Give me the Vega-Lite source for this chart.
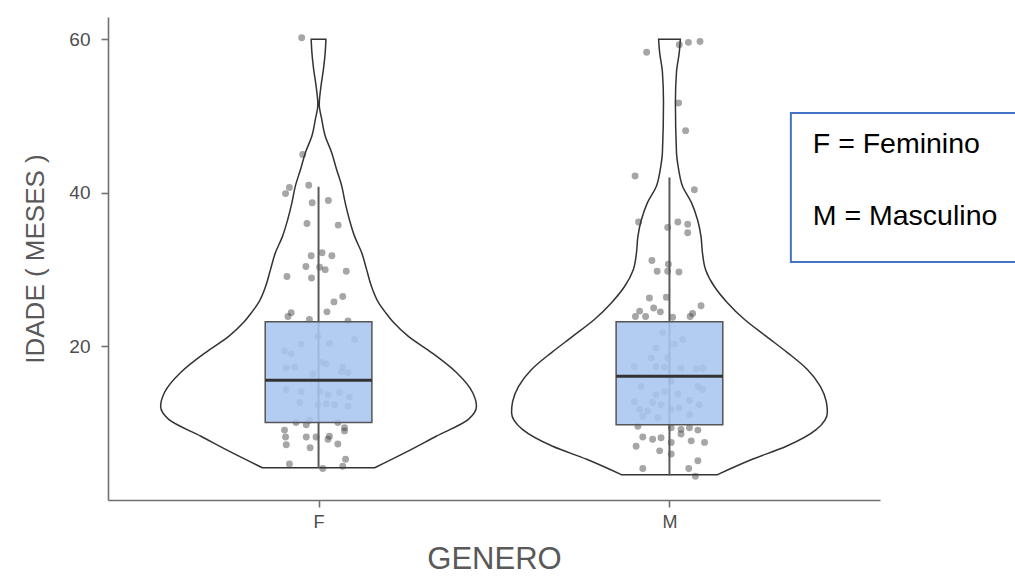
{
  "$schema": "https://vega.github.io/schema/vega-lite/v6.json",
  "width": 772,
  "height": 483,
  "autosize": {"type": "none"},
  "padding": {"left": 108, "top": 17, "right": 135, "bottom": 76},
  "background": "white",
  "config": {
    "view": {"stroke": null},
    "axis": {"grid": false, "domainColor": "#707070", "domainWidth": 1.6, "tickColor": "#707070", "tickWidth": 1.6, "tickSize": 7, "labelColor": "#4d4d4d", "titleColor": "#595959", "titleFontWeight": "normal", "labelFont": "Liberation Sans", "titleFont": "Liberation Sans"}
  },
  "datasets": {
    "violin": [
      {"g": "F", "age": 4.2, "w": 0.160}, {"g": "F", "age": 6.2, "w": 0.248}, {"g": "F", "age": 8.3, "w": 0.335},
      {"g": "F", "age": 10.5, "w": 0.427}, {"g": "F", "age": 12.2, "w": 0.450}, {"g": "F", "age": 14.0, "w": 0.439},
      {"g": "F", "age": 16.6, "w": 0.393}, {"g": "F", "age": 19.2, "w": 0.322}, {"g": "F", "age": 21.3, "w": 0.256},
      {"g": "F", "age": 23.1, "w": 0.214}, {"g": "F", "age": 24.4, "w": 0.191}, {"g": "F", "age": 25.7, "w": 0.171},
      {"g": "F", "age": 27.8, "w": 0.151}, {"g": "F", "age": 30.0, "w": 0.137}, {"g": "F", "age": 32.2, "w": 0.123},
      {"g": "F", "age": 34.3, "w": 0.103}, {"g": "F", "age": 36.5, "w": 0.088}, {"g": "F", "age": 38.7, "w": 0.076},
      {"g": "F", "age": 40.9, "w": 0.066}, {"g": "F", "age": 43.1, "w": 0.051}, {"g": "F", "age": 45.3, "w": 0.037},
      {"g": "F", "age": 47.4, "w": 0.019}, {"g": "F", "age": 49.6, "w": 0.009}, {"g": "F", "age": 51.5, "w": 0.002},
      {"g": "F", "age": 53.9, "w": 0.007}, {"g": "F", "age": 56.1, "w": 0.014}, {"g": "F", "age": 58.3, "w": 0.019},
      {"g": "F", "age": 60.0, "w": 0.021},
      {"g": "M", "age": 3.3, "w": 0.137}, {"g": "M", "age": 5.3, "w": 0.236}, {"g": "M", "age": 7.0, "w": 0.333},
      {"g": "M", "age": 9.2, "w": 0.419}, {"g": "M", "age": 11.4, "w": 0.450}, {"g": "M", "age": 12.8, "w": 0.447},
      {"g": "M", "age": 14.8, "w": 0.430}, {"g": "M", "age": 17.0, "w": 0.393}, {"g": "M", "age": 19.2, "w": 0.336},
      {"g": "M", "age": 21.3, "w": 0.276}, {"g": "M", "age": 23.5, "w": 0.214}, {"g": "M", "age": 25.7, "w": 0.165},
      {"g": "M", "age": 27.8, "w": 0.128}, {"g": "M", "age": 30.0, "w": 0.103}, {"g": "M", "age": 32.2, "w": 0.094},
      {"g": "M", "age": 34.3, "w": 0.090}, {"g": "M", "age": 36.5, "w": 0.080}, {"g": "M", "age": 38.7, "w": 0.063},
      {"g": "M", "age": 40.9, "w": 0.037}, {"g": "M", "age": 43.1, "w": 0.026}, {"g": "M", "age": 45.3, "w": 0.020},
      {"g": "M", "age": 51.8, "w": 0.017}, {"g": "M", "age": 55.7, "w": 0.020}, {"g": "M", "age": 58.3, "w": 0.028},
      {"g": "M", "age": 60.0, "w": 0.031}
    ],
    "stats": [
      {"g": "F", "lo": 4.2, "q1": 10.1, "med": 15.6, "q3": 23.2, "hi": 40.8},
      {"g": "M", "lo": 3.2, "q1": 9.8, "med": 16.1, "q3": 23.2, "hi": 42.0}
    ],
    "points": [
      {"g":"F","age":60.2,"jit":-0.048},{"g":"F","age":45.0,"jit":-0.045},{"g":"F","age":40.7,"jit":-0.083},{"g":"F","age":39.9,"jit":-0.094},
      {"g":"F","age":41.0,"jit":-0.028},{"g":"F","age":38.7,"jit":-0.018},{"g":"F","age":39.0,"jit":0.028},{"g":"F","age":36.0,"jit":-0.033},
      {"g":"F","age":35.8,"jit":0.056},{"g":"F","age":31.8,"jit":-0.021},{"g":"F","age":32.2,"jit":0.010},{"g":"F","age":31.8,"jit":0.038},
      {"g":"F","age":30.4,"jit":-0.036},{"g":"F","age":30.3,"jit":0.003},{"g":"F","age":30.0,"jit":0.019},{"g":"F","age":29.8,"jit":0.079},
      {"g":"F","age":29.1,"jit":-0.090},{"g":"F","age":28.9,"jit":-0.020},{"g":"F","age":26.5,"jit":0.069},{"g":"F","age":25.8,"jit":0.044},
      {"g":"F","age":24.5,"jit":0.024},{"g":"F","age":24.4,"jit":-0.078},{"g":"F","age":23.9,"jit":-0.087},{"g":"F","age":23.5,"jit":-0.026},
      {"g":"F","age":23.3,"jit":0.084},{"g":"F","age":21.3,"jit":-0.002},{"g":"F","age":20.9,"jit":0.103},{"g":"F","age":20.3,"jit":-0.049},
      {"g":"F","age":20.4,"jit":0.031},{"g":"F","age":19.4,"jit":-0.097},{"g":"F","age":19.0,"jit":-0.078},{"g":"F","age":17.9,"jit":0.008},
      {"g":"F","age":17.7,"jit":0.022},{"g":"F","age":17.2,"jit":-0.092},{"g":"F","age":17.3,"jit":-0.068},{"g":"F","age":17.3,"jit":0.069},
      {"g":"F","age":16.7,"jit":0.065},{"g":"F","age":16.4,"jit":-0.016},{"g":"F","age":16.6,"jit":0.084},{"g":"F","age":14.4,"jit":-0.092},
      {"g":"F","age":14.1,"jit":-0.049},{"g":"F","age":14.1,"jit":0.003},{"g":"F","age":13.7,"jit":0.027},{"g":"F","age":14.0,"jit":0.060},
      {"g":"F","age":13.4,"jit":0.088},{"g":"F","age":12.7,"jit":-0.054},{"g":"F","age":12.4,"jit":-0.002},{"g":"F","age":12.5,"jit":0.022},
      {"g":"F","age":12.4,"jit":0.046},{"g":"F","age":12.2,"jit":0.084},{"g":"F","age":10.4,"jit":-0.026},{"g":"F","age":10.1,"jit":-0.064},
      {"g":"F","age":9.8,"jit":-0.035},{"g":"F","age":10.1,"jit":0.055},{"g":"F","age":9.4,"jit":0.074},{"g":"F","age":9.1,"jit":-0.097},
      {"g":"F","age":9.0,"jit":0.074},{"g":"F","age":8.2,"jit":-0.094},{"g":"F","age":8.2,"jit":-0.035},{"g":"F","age":8.2,"jit":-0.007},
      {"g":"F","age":8.3,"jit":0.031},{"g":"F","age":7.9,"jit":0.027},{"g":"F","age":7.3,"jit":0.055},{"g":"F","age":7.2,"jit":-0.092},
      {"g":"F","age":6.8,"jit":-0.024},{"g":"F","age":4.7,"jit":-0.083},{"g":"F","age":5.3,"jit":0.077},{"g":"F","age":4.4,"jit":0.069},
      {"g":"F","age":4.1,"jit":0.012},
      {"g":"M","age":58.3,"jit":-0.065},{"g":"M","age":59.3,"jit":0.028},{"g":"M","age":59.6,"jit":0.054},{"g":"M","age":59.7,"jit":0.087},
      {"g":"M","age":51.7,"jit":0.026},{"g":"M","age":48.1,"jit":0.046},{"g":"M","age":42.2,"jit":-0.098},{"g":"M","age":40.4,"jit":0.071},
      {"g":"M","age":36.2,"jit":-0.088},{"g":"M","age":35.5,"jit":-0.005},{"g":"M","age":36.2,"jit":0.024},{"g":"M","age":35.9,"jit":0.052},
      {"g":"M","age":34.8,"jit":0.052},{"g":"M","age":31.2,"jit":-0.050},{"g":"M","age":30.7,"jit":-0.003},{"g":"M","age":29.8,"jit":-0.035},
      {"g":"M","age":29.8,"jit":-0.005},{"g":"M","age":29.7,"jit":0.027},{"g":"M","age":26.3,"jit":-0.057},{"g":"M","age":26.4,"jit":-0.009},
      {"g":"M","age":25.0,"jit":-0.045},{"g":"M","age":24.5,"jit":-0.026},{"g":"M","age":25.3,"jit":0.090},{"g":"M","age":24.6,"jit":-0.085},
      {"g":"M","age":23.9,"jit":-0.097},{"g":"M","age":23.9,"jit":-0.068},{"g":"M","age":23.8,"jit":0.009},{"g":"M","age":23.9,"jit":0.059},
      {"g":"M","age":24.3,"jit":0.066},{"g":"M","age":21.8,"jit":-0.019},{"g":"M","age":20.9,"jit":0.038},{"g":"M","age":20.3,"jit":0.014},
      {"g":"M","age":19.8,"jit":-0.038},{"g":"M","age":18.5,"jit":-0.052},{"g":"M","age":18.5,"jit":-0.005},{"g":"M","age":17.4,"jit":-0.100},
      {"g":"M","age":17.4,"jit":-0.038},{"g":"M","age":17.3,"jit":-0.014},{"g":"M","age":17.2,"jit":0.033},{"g":"M","age":17.1,"jit":0.076},
      {"g":"M","age":17.2,"jit":0.095},{"g":"M","age":14.8,"jit":-0.081},{"g":"M","age":15.5,"jit":0.005},{"g":"M","age":14.8,"jit":0.081},
      {"g":"M","age":13.7,"jit":-0.038},{"g":"M","age":14.1,"jit":-0.014},{"g":"M","age":13.8,"jit":0.024},{"g":"M","age":14.4,"jit":0.095},
      {"g":"M","age":12.8,"jit":-0.100},{"g":"M","age":12.7,"jit":-0.048},{"g":"M","age":12.4,"jit":-0.024},{"g":"M","age":13.0,"jit":0.057},
      {"g":"M","age":11.8,"jit":-0.085},{"g":"M","age":11.6,"jit":-0.062},{"g":"M","age":11.8,"jit":0.005},{"g":"M","age":12.0,"jit":0.028},
      {"g":"M","age":12.4,"jit":0.085},{"g":"M","age":10.9,"jit":-0.076},{"g":"M","age":10.7,"jit":-0.033},{"g":"M","age":11.1,"jit":0.057},
      {"g":"M","age":9.6,"jit":-0.090},{"g":"M","age":9.4,"jit":0.005},{"g":"M","age":9.2,"jit":0.033},{"g":"M","age":9.4,"jit":0.057},
      {"g":"M","age":9.1,"jit":0.081},{"g":"M","age":8.2,"jit":-0.076},{"g":"M","age":7.9,"jit":-0.048},{"g":"M","age":8.1,"jit":-0.024},
      {"g":"M","age":7.5,"jit":0.005},{"g":"M","age":8.6,"jit":0.033},{"g":"M","age":7.7,"jit":0.062},{"g":"M","age":7.5,"jit":0.100},
      {"g":"M","age":7.0,"jit":-0.095},{"g":"M","age":6.4,"jit":-0.028},{"g":"M","age":6.0,"jit":0.005},{"g":"M","age":5.1,"jit":0.081},
      {"g":"M","age":4.1,"jit":-0.076},{"g":"M","age":4.1,"jit":0.055},{"g":"M","age":3.1,"jit":0.074}
    ]
  },
  "layer": [
    {
      "data": {"name": "violin"},
      "transform": [
        {"calculate": "datum.g == 'F' ? 1 : 2", "as": "c"},
        {"calculate": "datum.c - datum.w", "as": "lo"},
        {"calculate": "datum.c + datum.w", "as": "hi"}
      ],
      "mark": {"type": "area", "orient": "horizontal", "interpolate": "monotone", "fill": "white", "stroke": "#333333", "strokeWidth": 1.5},
      "encoding": {
        "y": {"field": "age", "type": "quantitative", "scale": {"domain": [0, 62.9], "nice": false, "zero": false},
              "axis": {"values": [20, 40, 60], "title": "IDADE ( MESES )", "titleFontSize": 26, "labelFontSize": 19, "labelPadding": 11, "titlePadding": 20}},
        "x": {"field": "lo", "type": "quantitative", "stack": null, "scale": {"domain": [0.4, 2.6], "nice": false, "zero": false},
              "axis": {"values": [1, 2], "labelExpr": "datum.value == 1 ? 'F' : 'M'", "title": "GENERO", "titleFontSize": 31, "labelFontSize": 18, "labelPadding": 6, "titlePadding": 13}},
        "x2": {"field": "hi"},
        "detail": {"field": "g"}
      }
    },
    {
      "data": {"name": "points"},
      "transform": [
        {"calculate": "(datum.g == 'F' ? 1 : 2) + datum.jit", "as": "xp"}
      ],
      "mark": {"type": "circle", "size": 48, "color": "#3a3a3a", "opacity": 0.45},
      "encoding": {
        "x": {"field": "xp", "type": "quantitative"},
        "y": {"field": "age", "type": "quantitative"}
      }
    },
    {
      "data": {"name": "stats"},
      "transform": [{"calculate": "datum.g == 'F' ? 1 : 2", "as": "c"}],
      "mark": {"type": "rule", "color": "#5a5a5a", "strokeWidth": 2},
      "encoding": {
        "x": {"field": "c", "type": "quantitative"},
        "y": {"field": "lo", "type": "quantitative"},
        "y2": {"field": "hi"}
      }
    },
    {
      "data": {"name": "stats"},
      "transform": [
        {"calculate": "(datum.g == 'F' ? 1 : 2) - 0.152", "as": "bl"},
        {"calculate": "(datum.g == 'F' ? 1 : 2) + 0.152", "as": "br"}
      ],
      "mark": {"type": "rect", "fill": "#a9c6f0", "fillOpacity": 0.88, "stroke": "#555555", "strokeWidth": 1.5},
      "encoding": {
        "x": {"field": "bl", "type": "quantitative"},
        "x2": {"field": "br"},
        "y": {"field": "q1", "type": "quantitative"},
        "y2": {"field": "q3"}
      }
    },
    {
      "data": {"name": "stats"},
      "transform": [
        {"calculate": "(datum.g == 'F' ? 1 : 2) - 0.152", "as": "bl"},
        {"calculate": "(datum.g == 'F' ? 1 : 2) + 0.152", "as": "br"}
      ],
      "mark": {"type": "rule", "color": "#333333", "strokeWidth": 3},
      "encoding": {
        "x": {"field": "bl", "type": "quantitative"},
        "x2": {"field": "br"},
        "y": {"field": "med", "type": "quantitative"}
      }
    },
    {
      "data": {"values": [{"box": 1}]},
      "mark": {"type": "rect", "fill": "white", "stroke": "#4472c4", "strokeWidth": 2},
      "encoding": {
        "x": {"datum": 2.346},
        "x2": {"datum": 3.2},
        "y": {"datum": 50.4},
        "y2": {"datum": 31.0}
      }
    },
    {
      "data": {"values": [{"label": "F = Feminino"}]},
      "mark": {"type": "text", "align": "left", "baseline": "alphabetic", "font": "Liberation Sans", "fontSize": 28.5, "color": "#000000"},
      "encoding": {
        "x": {"datum": 2.4085},
        "y": {"datum": 45.2},
        "text": {"field": "label"}
      }
    },
    {
      "data": {"values": [{"label": "M = Masculino"}]},
      "mark": {"type": "text", "align": "left", "baseline": "alphabetic", "font": "Liberation Sans", "fontSize": 28.5, "color": "#000000"},
      "encoding": {
        "x": {"datum": 2.4085},
        "y": {"datum": 35.8},
        "text": {"field": "label"}
      }
    }
  ]
}
